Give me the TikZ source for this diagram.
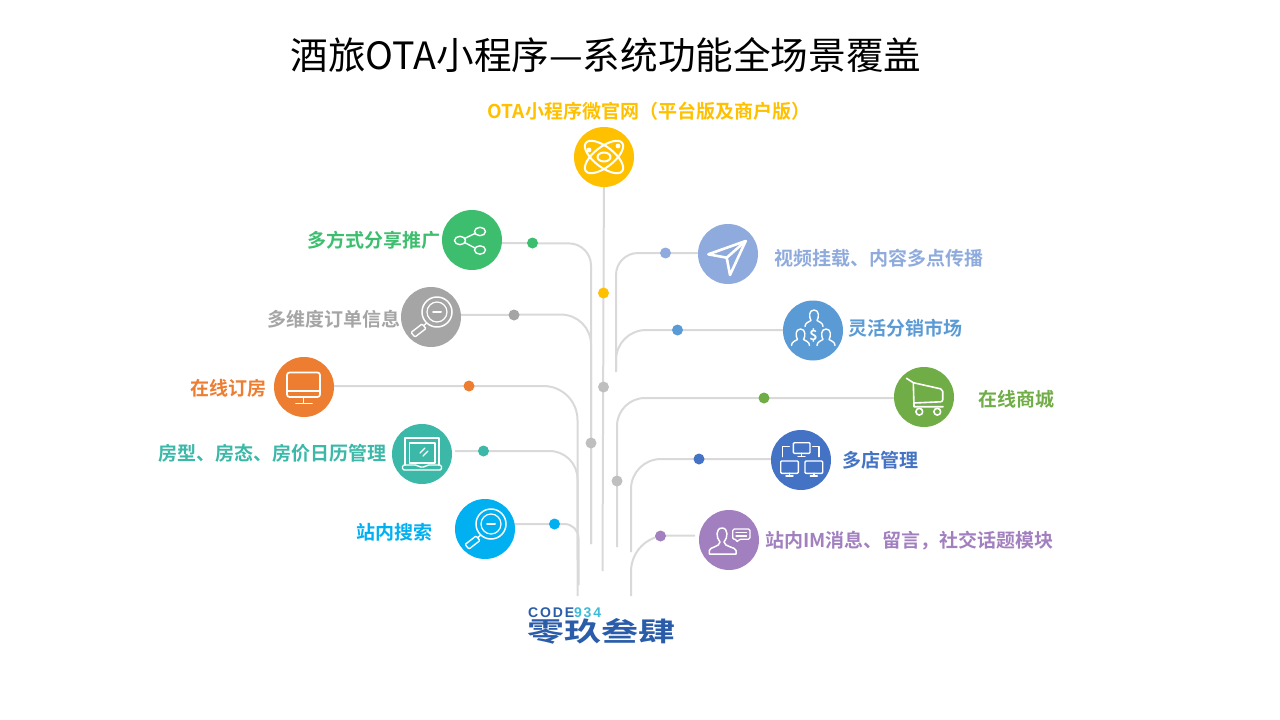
\documentclass[tikz,border=0pt]{standalone}
\usepackage{fontspec}
\setmainfont{Noto Sans CJK SC}
\newfontfamily\boldcjk{Noto Sans CJK SC Bold}
\newfontfamily\logolatin{Liberation Sans}
\usetikzlibrary{backgrounds}
\definecolor{cYellow}{HTML}{FFC000}
\definecolor{cGreen}{HTML}{3DBE6E}
\definecolor{cGray}{HTML}{A5A5A5}
\definecolor{cOrange}{HTML}{ED7D31}
\definecolor{cTeal}{HTML}{3BB8A8}
\definecolor{cCyan}{HTML}{00B0F0}
\definecolor{cPeri}{HTML}{8FAADC}
\definecolor{cSky}{HTML}{5B9BD5}
\definecolor{cLeaf}{HTML}{70AD47}
\definecolor{cBlue}{HTML}{4472C4}
\definecolor{cPurple}{HTML}{A280C0}
\definecolor{cLine}{HTML}{D9D9D9}
\definecolor{cJoint}{HTML}{BFBFBF}
\definecolor{cLogo}{HTML}{2A5CAA}
\definecolor{cLogoB}{HTML}{3DBBD8}
\tikzset{
  x=1pt,y=-1pt,
  hub/.style={circle,fill=#1,minimum size=60pt,inner sep=0pt},
  dotnode/.style={circle,fill=#1,minimum size=11pt,inner sep=0pt},
  lab/.style={text=#1,font=\boldcjk\fontsize{19}{19}\selectfont,inner sep=0pt},
  conn/.style={draw=cLine,line width=2pt,rounded corners=#1},
  conn/.default=24pt,
  icon/.style={draw=white,line width=1.7pt,line cap=round,line join=round},
}
\newcommand{\personshape}{%
  (-9,9) .. controls (-9,5) and (-5,4.5) .. (-3,3) .. controls (-5,0) and (-5.5,-7.5) .. (0,-7.5)
  .. controls (5.5,-7.5) and (5,0) .. (3,3) .. controls (5,4.5) and (9,5) .. (9,9)}
\newcommand{\lensicon}{%
  \draw[icon,line width=1.5pt] (6,-5) circle (15pt);
  \draw[icon,line width=1.2pt] (6,-5) circle (10pt);
  \draw[icon,line width=2pt] (2,-5) -- (10,-5);
  \draw[icon,line width=1.4pt] (-4.5,6) -- (-7,8.5);
  \draw[icon,line width=1.4pt,rounded corners=1pt] (-9,7) -- (-20,15.5) -- (-16,20) -- (-5,11.5) -- cycle;
}
\begin{document}
\begin{tikzpicture}
\useasboundingbox (0,0) rectangle (1280,720);
\node[inner sep=0pt,font=\fontsize{37.6}{37.6}\selectfont] (title) at (606,55.5) {酒旅OTA小程序—系统功能全场景覆盖};

% hubs
\node[hub=cYellow] (ota) at (604,157) {};
\node[hub=cGreen] (share) at (472,240) {};
\node[hub=cGray] (order) at (431,317) {};
\node[hub=cOrange] (book) at (304,387) {};
\node[hub=cTeal] (room) at (422,454) {};
\node[hub=cCyan] (search) at (485,529) {};
\node[hub=cPeri] (video) at (728,254) {};
\node[hub=cSky] (dist) at (813,330.5) {};
\node[hub=cLeaf] (mall) at (924,397) {};
\node[hub=cBlue] (shop) at (801,460) {};
\node[hub=cPurple] (im) at (729,540) {};

% dots
\node[dotnode=cYellow] (dOta) at (603.5,293) {};
\node[dotnode=cJoint] (jA) at (603.5,387) {};
\node[dotnode=cJoint] (jB) at (591,443) {};
\node[dotnode=cJoint] (jC) at (617,481) {};
\node[dotnode=cGreen] (dShare) at (532.5,243) {};
\node[dotnode=cGray] (dOrder) at (514,315) {};
\node[dotnode=cOrange] (dBook) at (469,386) {};
\node[dotnode=cTeal] (dRoom) at (483.5,451) {};
\node[dotnode=cCyan] (dSearch) at (554.5,524) {};
\node[dotnode=cPeri] (dVideo) at (665.5,253) {};
\node[dotnode=cSky] (dDist) at (677.5,330) {};
\node[dotnode=cLeaf] (dMall) at (764,398) {};
\node[dotnode=cBlue] (dShop) at (699,459) {};
\node[dotnode=cPurple] (dIm) at (660.5,536) {};

% connector waypoints
\coordinate (cShare) at (591,243.5);
\coordinate (cOrder) at (591,314.5);
\coordinate (eShare) at (591,544);
\coordinate (cBook) at (577.5,386);
\coordinate (eBook) at (577.5,596);
\coordinate (cRoom) at (577.5,451);
\coordinate (eRoom) at (577.5,560);
\coordinate (cSearch) at (578.5,524);
\coordinate (eSearch) at (578.5,585);
\coordinate (eOta) at (602.5,571);
\coordinate (cVideo) at (616,253);
\coordinate (eVideo) at (616,370);
\coordinate (cDist) at (616,330);
\coordinate (eDist) at (616,372);
\coordinate (cMall) at (617,398);
\coordinate (eMall) at (617,547);
\coordinate (cShop) at (631,459);
\coordinate (eShop) at (631,552);
\coordinate (cIm) at (631,535.5);
\coordinate (eIm) at (631,596);
\coordinate (sIm) at (695,535.5);
\coordinate (sRoom) at (455,451);

\begin{scope}[on background layer]
\draw[conn=0pt] (ota) -- (eOta);
\draw[conn=22pt] (share |- dShare) -- (cShare) -- (eShare);
\draw[conn=30pt] (order |- dOrder) -- (cOrder) -- (eShare);
\draw[conn=34pt] (book |- dBook) -- (cBook) -- (eBook);
\draw[conn=28pt] (sRoom) -- (cRoom) -- (eRoom);
\draw[conn=14pt] (search |- dSearch) -- (cSearch) -- (eSearch);
\draw[conn=22pt] (video |- dVideo) -- (cVideo) -- (eVideo);
\draw[conn=30pt] (dist |- dDist) -- (cDist) -- (eDist);
\draw[conn=28pt] (mall |- dMall) -- (cMall) -- (eMall);
\draw[conn=30pt] (shop |- dShop) -- (cShop) -- (eShop);
\draw[conn=36pt] (sIm) -- (cIm) -- (eIm);
\end{scope}

% labels
\node[lab=cYellow] (tOta) at (649,111) {OTA小程序微官网（平台版及商户版）};
\node[lab=cGreen,anchor=east] (tShare) at (440.5,240) {多方式分享推广};
\node[lab=cGray,anchor=east] (tOrder) at (400.5,319) {多维度订单信息};
\node[lab=cOrange,anchor=east] (tBook) at (267,388) {在线订房};
\node[lab=cTeal,anchor=east] (tRoom) at (387,453) {房型、房态、房价日历管理};
\node[lab=cCyan,anchor=east] (tSearch) at (433,532) {站内搜索};
\node[lab=cPeri,anchor=west] (tVideo) at (774,258) {视频挂载、内容多点传播};
\node[lab=cSky,anchor=west] (tDist) at (848.5,328) {灵活分销市场};
\node[lab=cLeaf,anchor=west] (tMall) at (978,399) {在线商城};
\node[lab=cBlue,anchor=west] (tShop) at (842,460) {多店管理};
\node[lab=cPurple,anchor=west] (tIm) at (765,541) {站内IM消息、留言，社交话题模块};

% icons
\begin{scope}[shift={(ota.center)}]
  \draw[icon,line width=2pt,rotate=38] (0,0) ellipse (23pt and 10pt);
  \draw[icon,line width=2pt,rotate=-38] (0,0) ellipse (23pt and 10pt);
  \draw[icon,line width=2pt] (0,0) ellipse (6.5pt and 4.5pt);
  \fill[white] (-15,-7) circle (2.4pt) (14,-11) circle (2.4pt);
\end{scope}
\begin{scope}[shift={(share.center)}]
  \draw[icon,line width=1.4pt] (-12,0.5) ellipse (5.5pt and 4.2pt) (8,-8.5) ellipse (5.5pt and 4.2pt) (8,10) ellipse (5.5pt and 4.2pt);
  \draw[icon,line width=1.4pt] (-7.5,-1.5) -- (3,-6.5) (-7.5,2.5) -- (3,8);
\end{scope}
\begin{scope}[shift={(order.center)}]\lensicon\end{scope}
\begin{scope}[shift={(search.center)}]\lensicon\end{scope}
\begin{scope}[shift={(book.center)}]
  \draw[icon,rounded corners=2.5pt] (-17,-14.5) rectangle (16,10);
  \draw[icon] (-17,4) -- (16,4) (-0.5,10) -- (-0.5,16) (-8,16.5) -- (8,16.5);
\end{scope}
\begin{scope}[shift={(room.center)}]
  \draw[icon,line width=1.4pt] (-17,11) -- (-17,-16) -- (17,-16) -- (17,11);
  \draw[icon,line width=1.4pt] (-12.5,9) -- (-12.5,-11) -- (13,-11) -- (13,9) -- cycle;
  \draw[icon,line width=1.4pt,rounded corners=1.5pt] (-19.5,11) -- (-5,11) -- (-3,13) -- (3,13) -- (5,11) -- (19.5,11) -- (19.5,16) -- (-19.5,16) -- cycle;
  \draw[icon,line width=1.4pt] (-2,-1) -- (3,-6) (1,2) -- (6,-3);
\end{scope}
\begin{scope}[shift={(video.center)}]
  \draw[icon,line width=2.6pt] (17.7,-13) -- (-19.7,0.3) -- (-1.3,3.7) -- (2,21) -- cycle;
  \draw[icon,line width=2.6pt] (-1.3,3.7) -- (17.7,-13);
\end{scope}
\begin{scope}[shift={(dist.center)}]
  \draw[icon,line width=1.4pt,shift={(1,-13)}] \personshape;
  \draw[icon,line width=1.4pt,shift={(-12.5,6)}] \personshape;
  \draw[icon,line width=1.4pt,shift={(13,6)}] \personshape;
  \node[text=white,inner sep=0pt,font=\boldcjk\fontsize{14}{14}\selectfont] (dollar) at (0.5,5) {\$};
\end{scope}
\begin{scope}[shift={(mall.center)}]
  \draw[icon,line width=1.6pt] (-17.5,-18.7) -- (-10.7,-14.3) -- (-10,9.7) -- (19,9.7);
  \draw[icon,line width=1.6pt,rounded corners=2pt] (-10.7,-14.3) -- (18.7,-7.7) -- (18.7,4.7) -- (-10,6);
  \draw[icon,line width=1.6pt] (-4.7,14.7) circle (3.4pt) (13.3,14.7) circle (3.4pt);
\end{scope}
\begin{scope}[shift={(shop.center)}]
  \draw[icon,line width=1.4pt,rounded corners=1pt] (-7.7,-17.3) rectangle (9,-6.7);
  \draw[icon,line width=1.4pt] (0.5,-6.7) -- (0.5,-3.7) (-3,-3.7) -- (4,-3.7);
  \draw[icon,line width=1.4pt,rounded corners=1pt] (-20.3,1) rectangle (-2.7,13.3);
  \draw[icon,line width=1.4pt] (-11.5,13.3) -- (-11.5,16) (-15,16) -- (-8,16);
  \draw[icon,line width=1.4pt,rounded corners=1pt] (4,1) rectangle (21.7,13.3);
  \draw[icon,line width=1.4pt] (12.8,13.3) -- (12.8,16) (9.3,16) -- (16.3,16);
  \draw[icon,line width=1.4pt] (-18.3,-3.3) -- (-18.3,-13.3) -- (-11.7,-13.3);
  \draw[icon,line width=1.4pt] (18,-3.3) -- (18,-13.3) -- (11.7,-13.3);
\end{scope}
\begin{scope}[shift={(im.center)}]
  \draw[icon,line width=1.5pt,line join=round] (-19.7,14) -- (-19.7,10.5) .. controls (-19.7,7) and (-9,7) .. (-9,2) .. controls (-13,-2) and (-13.5,-12) .. (-7,-12)
    .. controls (-0.5,-12) and (-1,-2) .. (-5,2) .. controls (-5,7) and (7,7) .. (7,10.5) -- (7,14) -- cycle;
  \draw[icon,line width=1.3pt,rounded corners=1.5pt] (3.7,-11) -- (21,-11) -- (21,-0.7) -- (10,-0.7) -- (7.7,2.7) -- (7.7,-0.7) -- (3.7,-0.7) -- cycle;
  \draw[icon,line width=1.2pt] (7,-7.5) -- (17.5,-7.5) (7,-4) -- (17.5,-4);
\end{scope}

% logo
\node[inner sep=0pt,anchor=west,font=\logolatin\bfseries\fontsize{14}{14}\selectfont] (logoA) at (528,612.5)
  {\addfontfeature{LetterSpace=13}\textcolor{cLogo}{CODE}\textcolor{cLogoB}{934}};
\node[inner sep=0pt,anchor=west,text=cLogo,font=\boldcjk\fontsize{37}{37}\selectfont] (logoB) at (527,631)
  {\scalebox{1}[0.72]{零玖叁肆}};
\end{tikzpicture}
\end{document}
